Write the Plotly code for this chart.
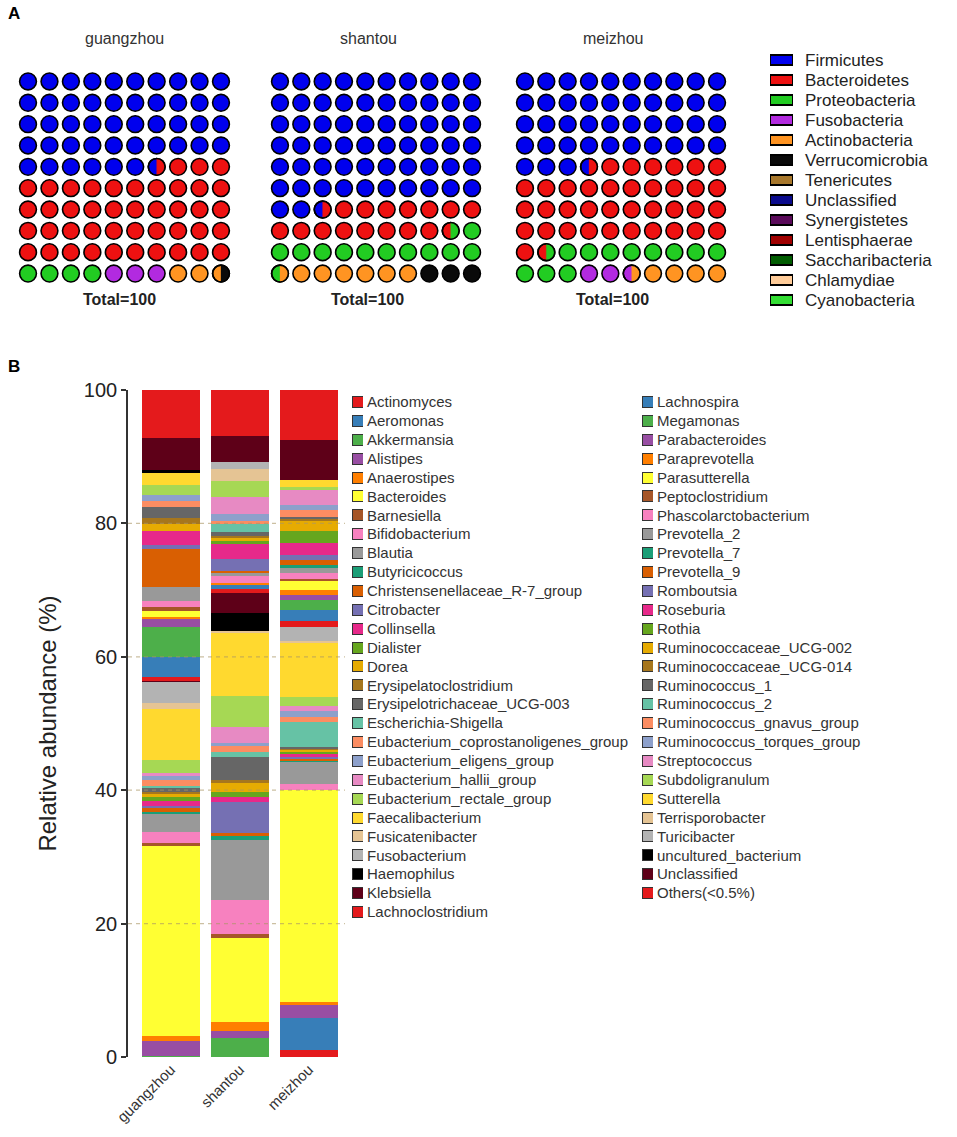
import numpy as np
import plotly.graph_objects as go

W, H = 957, 1137
FONT = "Liberation Sans, Arial, Helvetica, sans-serif"

# ---------------- data: panel A (phylum waffles) ----------------
regions = ["guangzhou", "shantou", "meizhou"]

phyla = ["Firmicutes", "Bacteroidetes", "Proteobacteria", "Fusobacteria",
         "Actinobacteria", "Verrucomicrobia", "Tenericutes", "Unclassified",
         "Synergistetes", "Lentisphaerae", "Saccharibacteria", "Chlamydiae",
         "Cyanobacteria"]
waffle_guangzhou = [46.5, 43.5, 4.0, 3.0, 2.5, 0.5, 0, 0, 0, 0, 0, 0, 0]
waffle_shantou = [62.5, 16.0, 12.0, 0.0, 6.5, 3.0, 0, 0, 0, 0, 0, 0, 0]
waffle_meizhou = [43.5, 38.0, 11.5, 2.5, 4.5, 0.0, 0, 0, 0, 0, 0, 0, 0]

# ---------------- data: panel B (genus stacked bars) ----------------
genera = [
    "Actinomyces", "Aeromonas", "Akkermansia", "Alistipes", "Anaerostipes",
    "Bacteroides", "Barnesiella", "Bifidobacterium", "Blautia", "Butyricicoccus",
    "Christensenellaceae_R-7_group", "Citrobacter", "Collinsella", "Dialister",
    "Dorea", "Erysipelatoclostridium", "Erysipelotrichaceae_UCG-003",
    "Escherichia-Shigella", "Eubacterium_coprostanoligenes_group",
    "Eubacterium_eligens_group", "Eubacterium_hallii_group",
    "Eubacterium_rectale_group", "Faecalibacterium", "Fusicatenibacter",
    "Fusobacterium", "Haemophilus", "Klebsiella", "Lachnoclostridium",
    "Lachnospira", "Megamonas", "Parabacteroides", "Paraprevotella",
    "Parasutterella", "Peptoclostridium", "Phascolarctobacterium",
    "Prevotella_2", "Prevotella_7", "Prevotella_9", "Romboutsia", "Roseburia",
    "Rothia", "Ruminococcaceae_UCG-002", "Ruminococcaceae_UCG-014",
    "Ruminococcus_1", "Ruminococcus_2", "Ruminococcus_gnavus_group",
    "Ruminococcus_torques_group", "Streptococcus", "Subdoligranulum",
    "Sutterella", "Terrisporobacter", "Turicibacter", "uncultured_bacterium",
    "Unclassified", "Others(<0.5%)"]

genus_guangzhou = [
    0.1, 0.0, 0.1, 2.2, 0.75,
    28.5, 0.5, 1.6, 2.65, 0.4,
    0.5, 0.3, 0.8, 0.6,
    0.5, 0.3, 0.5,
    0.4, 0.8,
    0.7, 0.4,
    2.0, 7.5, 1.0,
    3.2, 0.0, 0.1, 0.6,
    2.9, 4.5, 1.25, 0.35,
    0.9, 0.5, 1.0,
    2.1, 0.0, 5.6, 0.6, 2.15,
    0.0, 1.1, 0.9,
    1.6, 0.0, 0.85,
    0.9, 0.0, 1.5,
    1.85, 0.0, 0.0, 0.5,
    4.7, 7.25]

genus_shantou = [
    0.0, 0.0, 2.8, 1.1, 1.4,
    12.5, 0.65, 5.1, 9.0, 0.6,
    0.4, 4.75, 0.75, 0.75,
    1.25, 0.5, 3.5,
    0.75, 0.9,
    0.35, 2.5,
    4.5, 9.5, 0.35,
    0.0, 2.65, 3.0, 0.65,
    0.5, 0.0, 0.0, 0.35,
    0.0, 0.0, 1.0,
    0.5, 0.0, 0.3, 1.75, 2.25,
    0.5, 0.5, 0.3,
    0.5, 1.25, 0.5,
    1.0, 2.5, 2.5,
    0.0, 1.75, 1.0, 0.0,
    4.0, 6.85]

genus_meizhou = [
    1.1, 4.8, 0.0, 1.85, 0.5,
    31.75, 0.0, 1.0, 3.25, 0.2,
    0.3, 0.2, 0.5, 0.3,
    0.3, 0.2, 0.3,
    3.75, 0.75,
    0.75, 0.75,
    1.45, 8.0, 0.4,
    2.0, 0.0, 0.0, 0.9,
    1.75, 1.5, 0.75, 0.75,
    1.35, 0.3, 0.85,
    0.75, 0.5, 0.75, 0.75, 1.75,
    1.75, 1.5, 0.4,
    0.3, 0.0, 1.0,
    0.75, 2.25, 0.5,
    1.0, 0.0, 0.0, 0.0,
    6.0, 7.5]

y_ticks = [0, 20, 40, 60, 80, 100]
grid_values = [20, 40, 60, 80]

# ---------------- styles ----------------
phylum_colors = ["#0000EE", "#EE1111", "#22CC22", "#B22AE0", "#FF9422",
                 "#0A0A0A", "#A8782C", "#0A0A8C", "#5A0A5A", "#A00000",
                 "#005C00", "#FFCC99", "#33DD33"]
palette = ["#E41A1C", "#377EB8", "#4DAF4A", "#984EA3", "#FF7F00", "#FFFF33",
           "#A65628", "#F781BF", "#999999",
           "#1B9E77", "#D95F02", "#7570B3", "#E7298A", "#66A61E", "#E6AB02",
           "#A6761D", "#666666",
           "#66C2A5", "#FC8D62", "#8DA0CB", "#E78AC3", "#A6D854", "#FFD92F",
           "#E5C494", "#B3B3B3",
           "#000000", "#5E0018"]
genus_colors = [palette[i % len(palette)] for i in range(len(genera))]


def dx(a, b):
    return [a / W, b / W]


def dy(top, bottom):
    return [1 - bottom / H, 1 - top / H]


fig = go.Figure()

# ---------------- panel A: waffles ----------------
waffles = [waffle_guangzhou, waffle_shantou, waffle_meizhou]
waffle_x_domains = [(17.3, 231.7), (269.3, 482.7), (514.3, 727.7)]
waffle_y_domain = (70.8, 284.2)
MS = 16.8  # marker diameter px
px_per_x = (waffle_x_domains[0][1] - waffle_x_domains[0][0]) / 10
px_per_y = (waffle_y_domain[1] - waffle_y_domain[0]) / 10
rx = MS / 2 / px_per_x
ry = MS / 2 / px_per_y


def split_cells(vals):
    cum = np.concatenate([[0.0], np.cumsum(vals)])
    out = []
    for k in range(100):
        segs = []
        for i in range(len(vals)):
            ov = min(cum[i + 1], k + 1) - max(cum[i], k)
            if ov > 1e-9:
                segs.append((i, ov))
        out.append(segs)
    return out


def right_part(cx, cy, frac_start):
    xa = cx - rx + 2 * rx * frac_start
    ta = np.arccos(np.clip((xa - cx) / rx, -1, 1))
    th = np.linspace(-ta, ta, 40)
    xs = list(cx + rx * np.cos(th)) + [cx + rx * np.cos(-ta)]
    ys = list(cy + ry * np.sin(th)) + [cy + ry * np.sin(-ta)]
    return xs, ys


for j, vals in enumerate(waffles):
    xa = "x" if j == 0 else f"x{j + 1}"
    ya = "y" if j == 0 else f"y{j + 1}"
    cells = split_cells(vals)
    for p, name in enumerate(phyla):
        ks = [k for k, s in enumerate(cells) if s and s[0][0] == p]
        if not ks:
            continue
        fig.add_trace(go.Scatter(
            x=[k % 10 for k in ks], y=[k // 10 for k in ks], mode="markers",
            marker=dict(size=MS, color=phylum_colors[p],
                        line=dict(color="black", width=1.6)),
            name=name, xaxis=xa, yaxis=ya, hoverinfo="skip"))
    split_ks = [k for k, s in enumerate(cells) if len(s) > 1]
    for k in split_ks:
        start = cells[k][0][1]
        for p, frac in cells[k][1:]:
            xs, ys = right_part(k % 10, k // 10, start)
            fig.add_trace(go.Scatter(
                x=xs, y=ys, mode="lines", fill="toself",
                fillcolor=phylum_colors[p],
                line=dict(color=phylum_colors[p], width=0.3),
                name=phyla[p], xaxis=xa, yaxis=ya, hoverinfo="skip"))
            start += frac
    if split_ks:
        fig.add_trace(go.Scatter(
            x=[k % 10 for k in split_ks], y=[k // 10 for k in split_ks],
            mode="markers",
            marker=dict(size=MS, color="rgba(0,0,0,0)",
                        line=dict(color="black", width=1.6)),
            xaxis=xa, yaxis=ya, hoverinfo="skip"))

# legend A drawn as key boxes on its own category axis
fig.add_trace(go.Bar(
    y=phyla, x=[1] * len(phyla), orientation="h", width=0.5,
    marker=dict(color=phylum_colors, line=dict(color="black", width=1.3)),
    xaxis="x5", yaxis="y5", hoverinfo="skip"))

# ---------------- panel B: stacked bars ----------------
for i, g in enumerate(genera):
    fig.add_trace(go.Bar(
        x=regions, y=[genus_guangzhou[i], genus_shantou[i], genus_meizhou[i]],
        name=g, width=0.833,
        marker=dict(color=genus_colors[i], line=dict(width=0)),
        xaxis="x4", yaxis="y4"))

half = 28
fig.add_trace(go.Bar(
    y=genera[:half], x=[1] * half, orientation="h", width=0.58,
    marker=dict(color=genus_colors[:half], line=dict(color="#333333", width=1)),
    xaxis="x6", yaxis="y6", hoverinfo="skip"))
fig.add_trace(go.Bar(
    y=genera[half:], x=[1] * (len(genera) - half), orientation="h", width=0.58,
    marker=dict(color=genus_colors[half:], line=dict(color="#333333", width=1)),
    xaxis="x7", yaxis="y7", hoverinfo="skip"))

hidden = dict(visible=False, fixedrange=True, showgrid=False, zeroline=False)

layout_axes = {}
for j in range(3):
    sx = "" if j == 0 else str(j + 1)
    layout_axes[f"xaxis{sx}"] = dict(domain=dx(*waffle_x_domains[j]),
                                     range=[-0.5, 9.5], anchor=f"y{sx}", **hidden)
    layout_axes[f"yaxis{sx}"] = dict(domain=dy(*waffle_y_domain),
                                     range=[9.5, -0.5], anchor=f"x{sx}", **hidden)

layout_axes["xaxis4"] = dict(
    domain=dx(128, 345), anchor="y4", type="category",
    categoryorder="array", categoryarray=regions, range=[-0.62, 2.525],
    showline=False, ticks="", showgrid=False, zeroline=False,
    tickangle=-45, tickfont=dict(size=15, color="#333333"), automargin=False)
layout_axes["yaxis4"] = dict(
    domain=dy(390, 1057), anchor="x4", range=[0, 100], tickvals=y_ticks,
    showline=True, linecolor="#333333", linewidth=1.6,
    ticks="outside", ticklen=5, tickwidth=1.5, tickcolor="#333333",
    tickfont=dict(size=20, color="#222222"), showgrid=False, zeroline=False,
    title=dict(text="Relative abundance (%)", font=dict(size=24, color="#222222"),
               standoff=20),
    automargin=False)

cat_axis = dict(type="category", side="right", showline=False, showgrid=False,
                zeroline=False, ticks="", automargin=False, fixedrange=True)
layout_axes["xaxis5"] = dict(domain=dx(770, 793), range=[0, 1], anchor="y5", **hidden)
layout_axes["yaxis5"] = dict(domain=dy(50, 310), anchor="x5",
                             range=[len(phyla) - 0.5, -0.5],
                             tickfont=dict(size=17, color="#222222"),
                             ticklabelstandoff=11, **cat_axis)
step = 18.89
layout_axes["xaxis6"] = dict(domain=dx(352, 363), range=[0, 1], anchor="y6", **hidden)
layout_axes["yaxis6"] = dict(domain=dy(402 - step / 2, 402 - step / 2 + half * step),
                             anchor="x6", range=[half - 0.5, -0.5],
                             tickfont=dict(size=15, color="#333333"),
                             ticklabelstandoff=3, **cat_axis)
nr = len(genera) - half
layout_axes["xaxis7"] = dict(domain=dx(642, 653), range=[0, 1], anchor="y7", **hidden)
layout_axes["yaxis7"] = dict(domain=dy(402 - step / 2, 402 - step / 2 + nr * step),
                             anchor="x7", range=[nr - 0.5, -0.5],
                             tickfont=dict(size=15, color="#333333"),
                             ticklabelstandoff=3, **cat_axis)

shapes = [dict(type="line", xref="x4 domain", yref="y4", x0=0, x1=1, y0=v, y1=v,
               line=dict(color="rgba(170,150,100,0.6)", width=1.2, dash="4px,4px"),
               layer="above") for v in grid_values]

annotations = [
    dict(text="<b>A</b>", x=14 / W, y=1 - 14 / H, font=dict(size=17, color="black")),
    dict(text="<b>B</b>", x=14 / W, y=1 - 366 / H, font=dict(size=17, color="black")),
]
title_x = [124.5, 368, 613]
total_x = [120, 367, 612]
for j, name in enumerate(regions):
    annotations.append(dict(text=name, x=title_x[j] / W, y=1 - 38 / H,
                            font=dict(size=16, color="#333333")))
    annotations.append(dict(text=f"<b>Total={int(round(sum(waffles[j])))}</b>",
                            x=total_x[j] / W, y=1 - 300 / H,
                            font=dict(size=16, color="#222222")))
for a in annotations:
    a.update(xref="paper", yref="paper", showarrow=False,
             xanchor="center", yanchor="middle")

fig.update_layout(
    width=W, height=H, margin=dict(l=0, r=0, t=0, b=0),
    paper_bgcolor="white", plot_bgcolor="rgba(0,0,0,0)",
    font=dict(family=FONT, color="#222222"),
    barmode="stack", showlegend=False,
    shapes=shapes, annotations=annotations,
    **layout_axes)

fig.write_html("out.html", config={"displayModeBar": False},
               post_script="document.body.style.margin='0';")
